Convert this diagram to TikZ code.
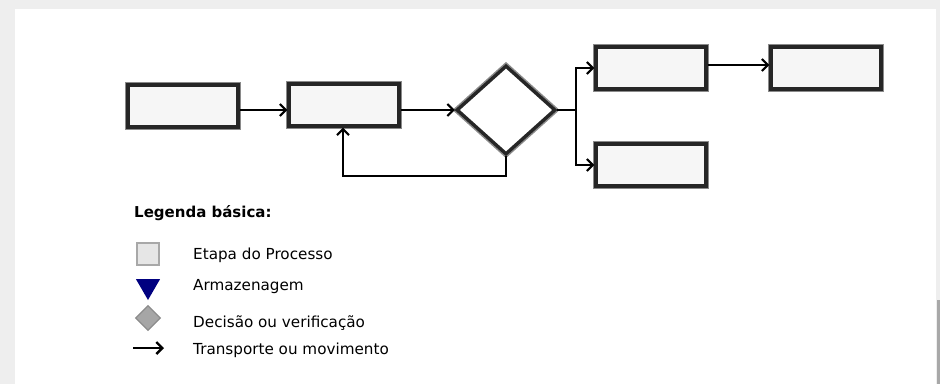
\documentclass[tikz,border=0pt]{standalone}
\usepackage{fontspec}
\setmainfont{DejaVu Sans}
\usetikzlibrary{shapes.geometric,arrows.meta}
\definecolor{bgray}{HTML}{EEEEEE}
\definecolor{boxfill}{HTML}{F6F6F6}
\definecolor{shadowgray}{HTML}{8A8A8A}
\definecolor{legsq}{HTML}{E6E6E6}
\definecolor{legsqb}{HTML}{A8A8A8}
\definecolor{legdia}{HTML}{A6A6A6}
\definecolor{legdiab}{HTML}{8C8C8C}
\definecolor{navyblue}{HTML}{000080}
\tikzset{
  x=1pt, y=-1pt,
  procbox/.style={draw=black!85, line width=3.4pt, fill=boxfill, minimum width=110pt, minimum height=42pt, inner sep=0pt,
    preaction={draw=shadowgray, line width=6.4pt}},
  decbox/.style={diamond, draw=black!85, line width=3.4pt, fill=white, inner sep=0pt,
    preaction={draw=shadowgray, line width=6.4pt}},
  conn/.style={draw=black, line width=2pt, -{Straight Barb[length=6pt,width=12pt,line width=2pt]}},
  plain/.style={draw=black, line width=2pt},
  legtext/.style={anchor=west, font=\fontsize{15.2pt}{17pt}\selectfont, inner sep=0pt}
}
\begin{document}
\begin{tikzpicture}
\useasboundingbox (0,0) rectangle (940,384);
\fill[bgray] (0,0) rectangle (940,384);
\fill[white] (15,9) rectangle (936,384);
\fill[legsqb] (937,300) rectangle (940,384);

% process nodes
\node[procbox] (b1) at (183,106) {};
\node[procbox] (b2) at (344,105) {};
\node[decbox, minimum width=99pt, minimum height=89pt] (d) at (506,110) {};
\node[procbox] (b3) at (651,68) {};
\node[procbox] (b4) at (826,68) {};
\node[procbox] (b5) at (651,165) {};

\coordinate (split) at (576,110);
\coordinate (fb) at (506,176);

\draw[conn] (b1.east |- 0,110) -- (b2.west |- 0,110);
\draw[conn] (b2.east |- 0,110) -- (d.west);
\draw[plain] (d.east) -- (split);
\draw[conn] (split) |- (b3.west);
\draw[conn] (split) |- (b5.west);
\draw[conn] (b3.east |- 0,65) -- (b4.west |- 0,65);
\draw[conn] (d.south) -- (fb) -| (b2.south -| 343,0);

% legend
\node[anchor=base west, inner sep=0pt, font=\bfseries\fontsize{15pt}{17pt}\selectfont] (lt) at (134,217) {Legenda básica:};

\node[draw=legsqb, line width=1.2pt, fill=legsq, minimum width=22pt, minimum height=22pt, inner sep=0pt] (ls) at (148,254) {};
\node[legtext] (l1) at (193,255) {Etapa do Processo};

\node[isosceles triangle, shape border rotate=-90, isosceles triangle apex angle=60, fill=navyblue, minimum width=22pt, minimum height=21pt, inner sep=0pt] (lv) at (148,286) {};
\node[legtext] (l2) at (193,287) {Armazenagem};

\node[diamond, draw=legdiab, line width=1.2pt, fill=legdia, minimum width=25pt, minimum height=25pt, inner sep=0pt] (ld) at (148,318) {};
\node[legtext] (l3) at (193,323) {Decisão ou verificação};

\coordinate (la1) at (133,348);
\coordinate (la2) at (164,348);
\draw[draw=black, line width=2.4pt, -{Straight Barb[length=6pt,width=12pt,line width=2.4pt]}] (la1) -- (la2);
\node[legtext] (l4) at (193,350) {Transporte ou movimento};
\end{tikzpicture}
\end{document}
